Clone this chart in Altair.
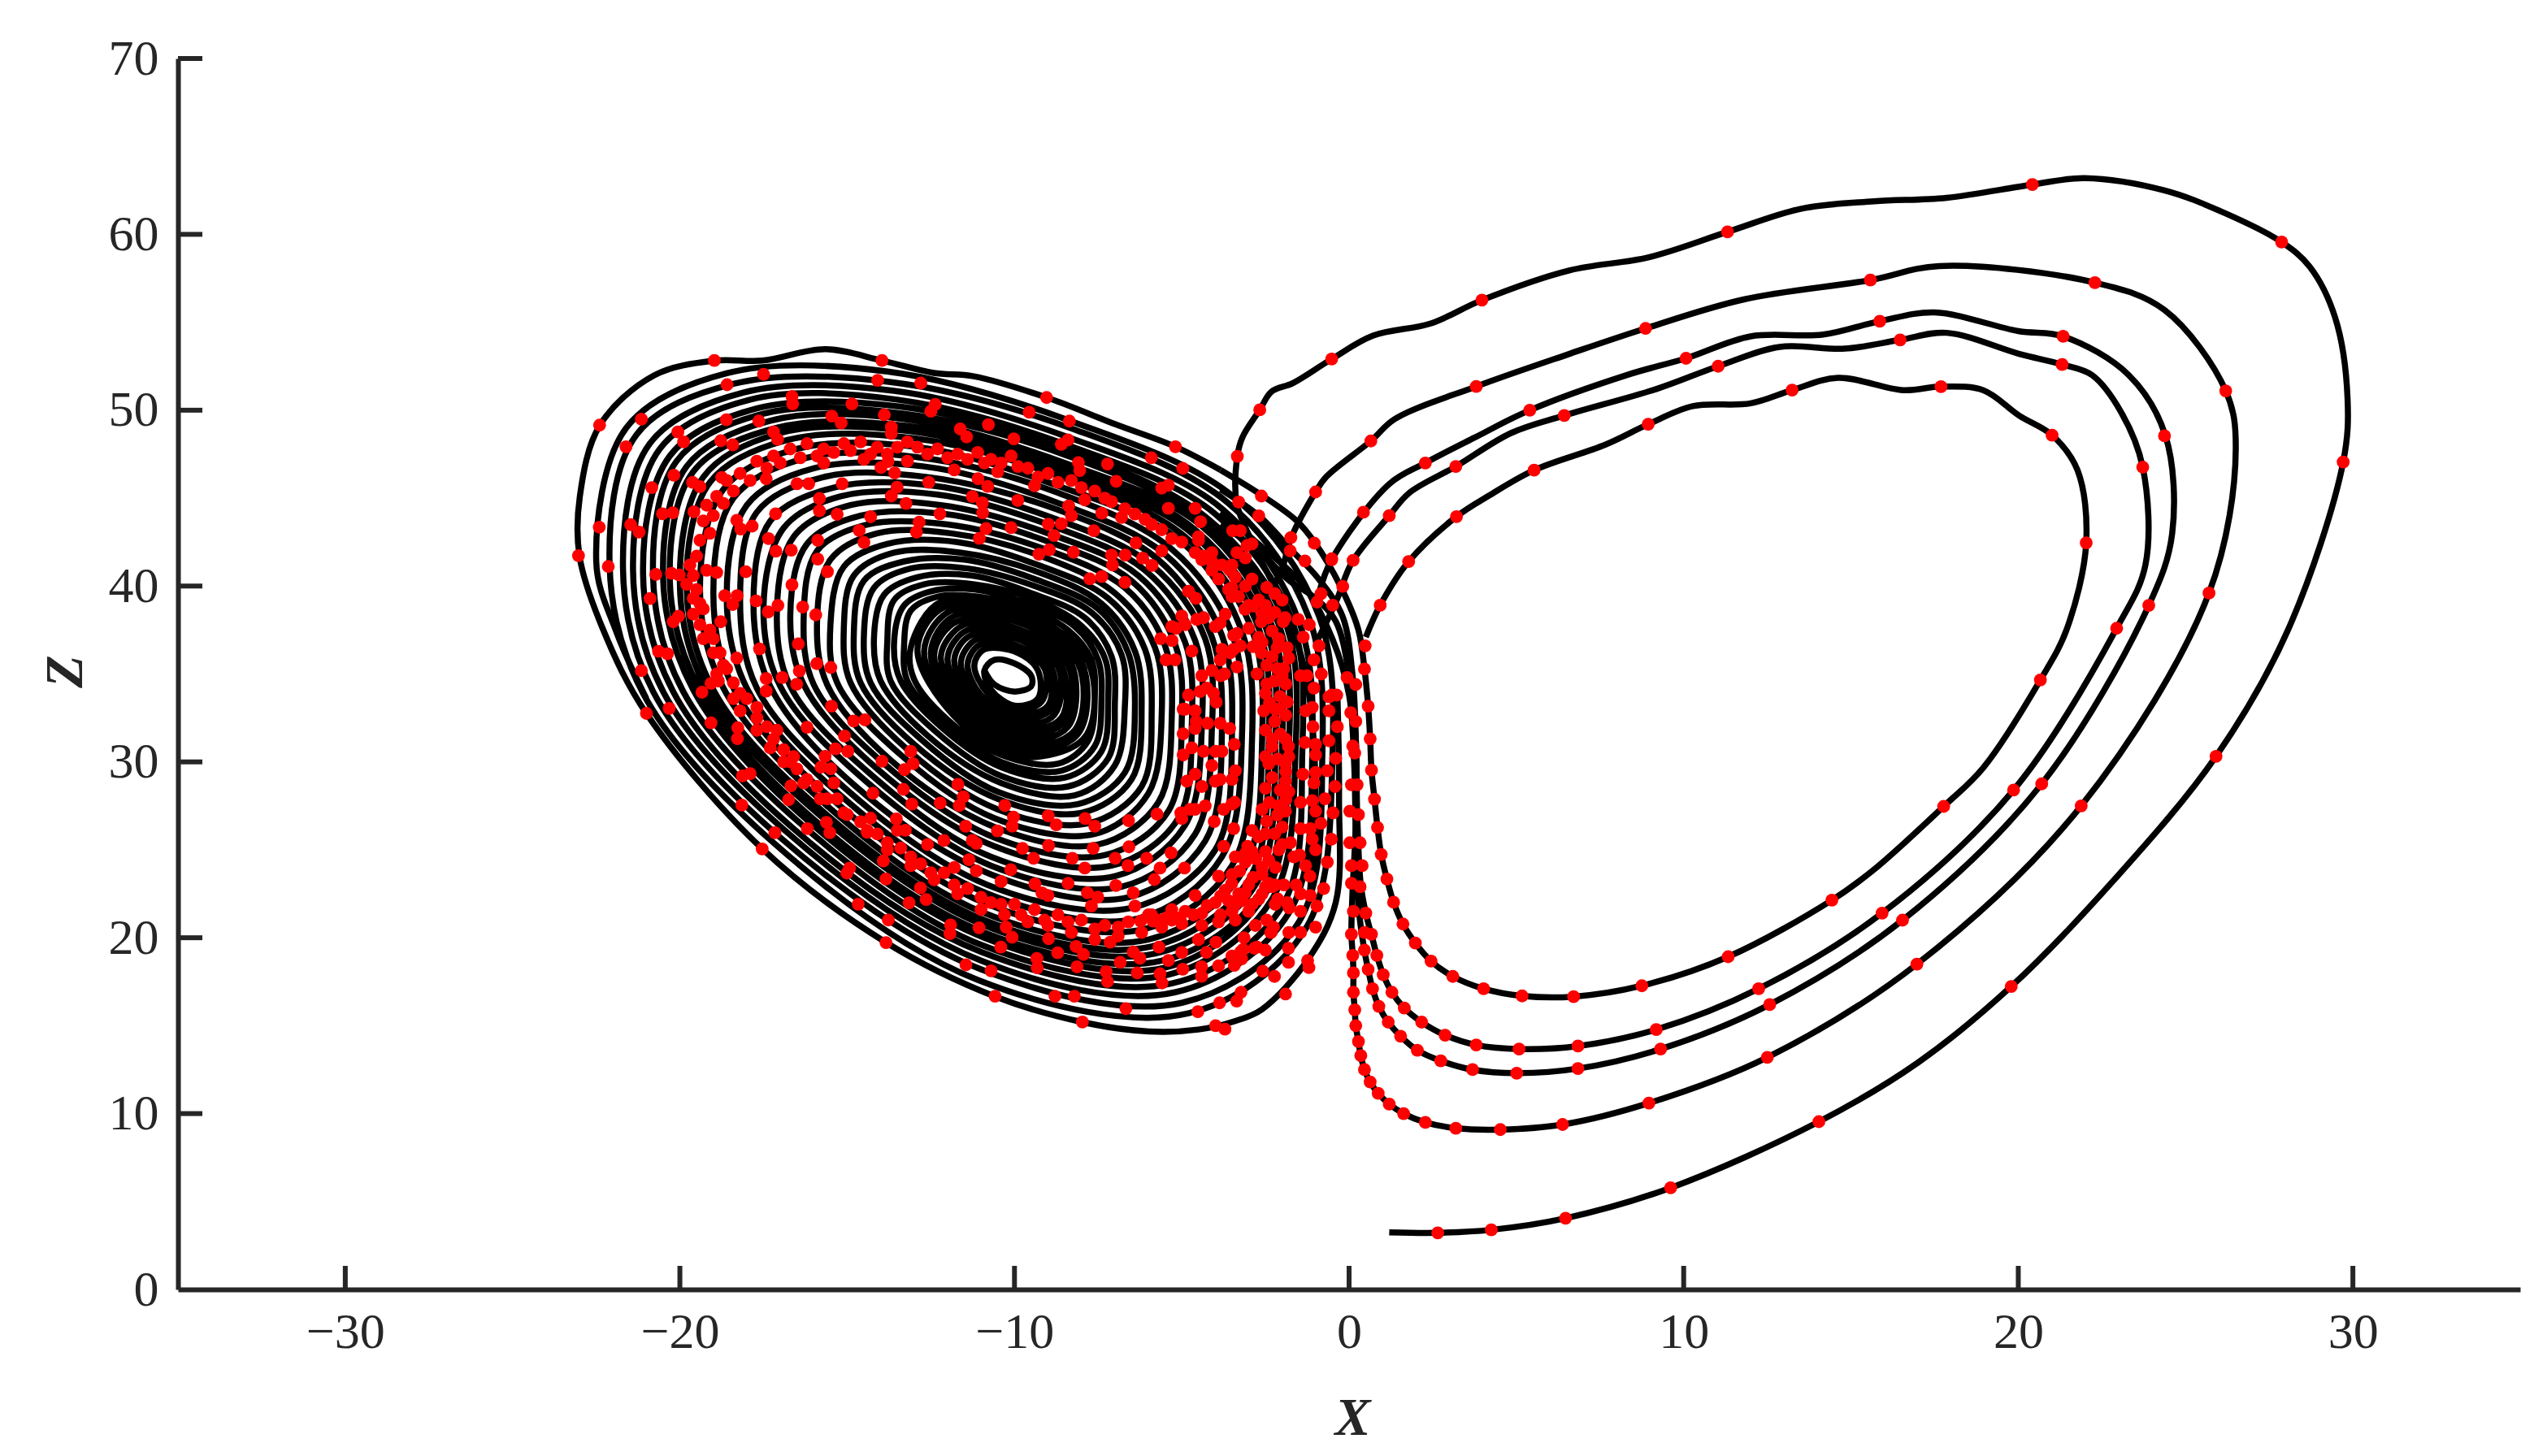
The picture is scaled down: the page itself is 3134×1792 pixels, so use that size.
import altair as alt
import pandas as pd

# (x, z)
loop_first = [(1.2,3.25),(2.65,3.22),(4.25,3.39),(6.47,4.05),(9.61,5.78),(14.04,9.54),(17,12.9),(19.79,17.23),(22.85,23.26),(25.91,30.32),(28.06,37.5),(29.71,47.05),(29.84,50.7),(29.47,55.27),(28.71,58.16),(27.87,59.56),(26.11,61.26),(24.37,62.5),(21.98,63.2),(20.42,62.83),(17.86,62.08),(15.69,61.88),(13.52,61.46),(11.31,60.14),(8.96,58.7),(6.58,57.95),(3.97,56.26),(2.45,54.94),(0.72,54.24),(-0.52,52.91),(-1.67,51.55),(-2.32,51.05),(-2.67,50.02),(-3.19,48.45),(-3.34,47.38),(-3.36,44.73),(-2.9,42.5),(-2.0,39),(-1.3,35),(-1.0,28),(-1.2,22)]
loop_a = [(-3.84,45.5),(-2.7,44),(-1.7,42),(-0.95,40.5),(-0.2,38.3),(0.1,35),(0.2,31.3),(0.2,26.5),(0.1,22.5),(0.07,20.2),(0.11,19),(0.13,18),(0.13,16.9),(0.17,15.9),(0.2,15),(0.28,14.1),(0.35,13.3),(0.46,12.5),(0.63,11.8),(0.87,11.15),(1.2,10.54),(1.63,10),(2.28,9.5),(3.19,9.17),(4.52,9.09),(6.38,9.38),(8.96,10.6),(12.5,13.2),(16.97,18.5),(21.88,27.5),(25.7,39.6),(26.5,47.8),(26.2,51.1),(24.37,55.7),(22.29,57.25),(17.64,58.2),(15.58,57.4),(11.8,56.3),(8.86,54.65),(6.58,53.2),(3.8,51.35),(1.37,49.5),(0.65,48.25),(-0.69,46.2),(-1,45.35),(-1.74,42.7),(-2,41),(-2.4,39.5)]
loop_b = [(-3.84,44.2),(-2.9,42.7),(-1.35,40),(-0.5,37),(0,33.8),(0.15,30),(0.2,26),(0.28,21.8),(0.46,19.25),(0.57,18.2),(0.7,17.1),(0.89,16.1),(1.17,15.2),(1.54,14.4),(2.04,13.6),(2.74,13),(3.69,12.5),(5.01,12.3),(6.84,12.56),(9.31,13.67),(12.57,16.2),(16.54,21),(20.7,28.75),(23.9,38.9),(24.6,43),(24.4,48.54),(23.3,52),(21.34,54.2),(20,54.5),(17.5,55.56),(15.86,55.06),(14.17,54.3),(12,54.2),(10.07,52.95),(8.3,52),(5.4,50),(3.76,48.45),(2.28,47),(1.2,45.8),(-0.52,41.5),(-0.9,39.6)]
loop_c = [(-3.84,43.5),(-2.7,42),(-1.78,40.3),(-1,39.3),(-0.4,38),(0,35),(0.2,31.3),(0.24,27.2),(0.35,23),(0.5,21.4),(0.67,20.16),(0.83,19),(1.02,17.9),(1.28,16.9),(1.65,16),(2.17,15.2),(2.87,14.46),(3.8,13.9),(5.08,13.67),(6.84,13.84),(9.18,14.78),(12.24,17.1),(15.93,21.4),(19.86,28.4),(22.94,37.6),(23.8,41.2),(23.72,46.76),(23.07,49.9),(22.2,52),(21.31,52.6),(20.03,53.2),(17.86,54.4),(16.47,54),(14.82,53.5),(12.87,53.6),(11.03,52.5),(9.18,51.2),(6.43,49.7),(4.84,48.7),(3.19,46.8),(1.8,45.3),(1.2,44),(0.1,41.4),(-0.37,39.2),(-1,36.7)]
loop_d = [(-3.84,46.6),(-2.6,45.15),(-1.56,43.7),(-1.02,42.46),(-0.26,40),(0.28,37.5),(0.46,35.28),(0.57,33.17),(0.63,31.31),(0.67,29.53),(0.76,27.88),(0.85,26.27),(0.96,24.74),(1.13,23.34),(1.33,22.02),(1.61,20.78),(1.98,19.7),(2.45,18.67),(3.1,17.8),(4.02,17.1),(5.17,16.69),(6.71,16.65),(8.75,17.27),(11.33,18.92),(14.43,22.14),(15.69,23.88),(17.77,27.47),(18.95,29.66),(20.66,34.66),(21.44,37.5),(22.03,42.46),(21.77,46.59),(21.01,48.58),(20.03,49.69),(18.95,51.14),(17.69,51.34),(16.56,51.14),(14.61,51.84),(13.24,51.14),(12,50.39),(10.27,50.23),(8.94,49.2),(7.66,48.04),(5.53,46.59),(4.19,45.15),(3.21,43.95),(1.78,41.39),(0.93,38.91),(0.5,37.1)]

ring_outer = [(-0.35,33.9),(-0.3,28),(-0.4,22),(-1.23,18.76),(-2.6,15.93),(-3.41,15.26),(-4.51,14.78),(-5.99,14.67),(-7.97,15.2),(-10.58,16.66),(-13.83,19.72),(-17.53,25.04),(-21,32.75),(-22.3,37.55),(-23,41.7),(-22.99,45.1),(-22.39,49.15),(-20.77,51.98),(-18.97,52.82),(-17.53,52.82),(-15.66,53.47),(-13.95,52.82),(-12.42,52.12),(-11.22,51.93),(-9.04,50.72),(-6.96,49.18),(-5.19,47.92),(-3.84,46.6)]
rings_outer = [
    (-21,33.6),(-21.9,37.4),
    (-22.5,41.4),(-21.6,49),(-18.6,52.1),(-13.8,52.2),(-8.2,49.3),(-3.4,45),(-0.9,38.3),(-0.5,30.1),(-1.3,20.5),(-4.8,15.7),(-11.1,17.6),(-17.2,25.4),(-21.1,33.9),
    (-22.1,41.2),(-21.3,48.6),(-18.4,51.5),(-13.7,51.6),(-8.2,48.9),(-3.6,44.7),(-1.2,38.2),(-0.8,30.3),(-1.5,20.9),(-5,16.3),(-11,18.2),(-17,25.7),(-20.8,34),
    (-21.7,41),(-20.9,48.1),(-18.1,51),(-13.6,51.1),(-8.3,48.4),(-3.8,44.4),(-1.5,38),(-1.1,30.4),(-1.8,21.4),(-5.2,16.9),(-11,18.7),(-16.8,26),(-20.5,34),
    (-21.4,40.9),(-20.6,47.8),(-17.9,50.6),(-13.5,50.6),(-8.4,48),(-4,44.1),(-1.7,38),(-1.4,30.5),(-2,21.8),(-5.3,17.4),(-11,19.2),(-16.6,26.2),(-20.2,34),
    (-21.1,40.7),(-20.3,47.4),(-17.7,50.1),(-13.4,50.2),(-8.4,47.7),(-4.2,43.8),(-1.9,37.9),(-1.6,30.7),(-2.3,22.2),(-5.4,17.9),(-11,19.6),(-16.4,26.5),(-19.9,34),
    (-20.8,40.5),(-20.1,47.1),(-17.5,49.8),(-13.3,49.8),(-8.4,47.4),(-4.3,43.6),(-2.1,37.8),(-1.8,30.8),(-2.5,22.5),(-5.5,18.3),(-10.9,20),(-16.2,26.7),(-19.6,34.1),
    (-20.5,40.4),(-19.8,46.8),(-17.3,49.4),(-13.3,49.5),(-8.5,47),(-4.4,43.4),(-2.3,37.7),(-2,30.9),(-2.6,22.7),(-5.6,18.7),(-10.9,20.3),(-16.1,26.9),(-19.4,34.1),
    (-20.3,40.3),(-19.6,46.5),(-17.1,49),(-13.2,49.1),(-8.5,46.8),(-4.6,43.2),(-2.5,37.7),(-2.2,31),(-2.8,23),(-5.8,19.1),(-10.9,20.7),(-15.9,27.1),(-19.2,34.1),
    (-20,40.1),(-19.3,46.2),(-17,48.7),(-13.1,48.8),(-8.6,46.5),(-4.7,43),(-2.7,37.6),(-2.4,31.1),(-3,23.3),(-5.9,19.5),(-10.9,21),(-15.8,27.3),(-19,34.1),
    (-19.8,40),(-19.1,45.9),(-16.8,48.3),(-13,48.4),(-8.6,46.2),(-4.9,42.8),(-2.9,37.5),(-2.6,31.2),(-3.2,23.7),(-6,19.9),(-10.9,21.4),(-15.6,27.5),(-18.7,34.2),
]
rings_mid = [
    (-19.4,39.8),(-18.7,45.5),(-16.5,47.8),(-12.9,47.9),(-8.7,45.7),(-5,42.5),(-3.2,37.4),(-2.9,31.3),(-3.5,24.1),(-6.1,20.5),(-10.8,21.9),(-15.4,27.8),(-18.4,34.2),
    (-19,39.6),(-18.4,45),(-16.2,47.3),(-12.8,47.3),(-8.7,45.3),(-5.3,42.1),(-3.5,37.3),(-3.2,31.5),(-3.8,24.6),(-6.3,21.1),(-10.8,22.5),(-15.2,28.1),(-18,34.2),
    (-18.6,39.4),(-18,44.6),(-16,46.7),(-12.7,46.8),(-8.8,44.8),(-5.5,41.8),(-3.8,37.2),(-3.5,31.6),(-4,25),(-6.5,21.7),(-10.8,23),(-15,28.4),(-17.7,34.2),
    (-18.2,39.2),(-17.7,44.2),(-15.7,46.2),(-12.6,46.2),(-8.8,44.4),(-5.7,41.5),(-4.1,37.1),(-3.8,31.8),(-4.3,25.5),(-6.6,22.3),(-10.7,23.6),(-14.8,28.7),(-17.3,34.3),
    (-17.8,39),(-17.3,43.7),(-15.4,45.6),(-12.4,45.7),(-8.9,43.9),(-5.9,41.2),(-4.3,37),(-4.1,31.9),(-4.6,25.9),(-6.8,22.9),(-10.7,24.1),(-14.5,29),(-17,34.3),
    (-17.5,38.8),(-16.9,43.3),(-15.2,45.1),(-12.3,45.2),(-9,43.5),(-6.1,40.9),(-4.6,36.9),(-4.4,32),(-4.9,26.4),(-7,23.5),(-10.7,24.6),(-14.3,29.3),(-16.7,34.3),
    (-17.1,38.6),(-16.6,42.8),(-14.9,44.6),(-12.2,44.6),(-9,43),(-6.3,40.6),(-4.9,36.8),(-4.7,32.2),(-5.1,26.8),(-7.1,24.1),(-10.6,25.2),(-14.1,29.6),(-16.3,34.4),
    (-16.7,38.4),(-16.2,42.4),(-14.6,44),(-12.1,44.1),(-9.1,42.6),(-6.5,40.3),(-5.2,36.7),(-5,32.4),(-5.4,27.2),(-7.3,24.7),(-10.6,25.7),(-13.9,29.9),(-16,34.4),
    (-16.3,38.2),(-15.9,42),(-14.4,43.5),(-12,43.5),(-9.1,42.1),(-6.7,39.9),(-5.5,36.6),(-5.3,32.5),(-5.7,27.7),(-7.5,25.3),(-10.6,26.3),(-13.7,30.1),(-15.6,34.4),
    (-15.9,38),(-15.5,41.5),(-14.1,43),(-11.9,43),(-9.2,41.7),(-7,39.6),(-5.8,36.5),(-5.6,32.7),(-6,28.2),(-7.6,25.9),(-10.6,26.8),(-13.4,30.4),(-15.3,34.5),
    (-15.5,37.8),(-15.1,41.1),(-13.8,42.4),(-11.7,42.5),(-9.3,41.2),(-7.2,39.3),(-6.1,36.4),(-5.9,32.8),(-6.2,28.6),(-7.8,26.5),(-10.5,27.3),(-13.2,30.7),(-14.9,34.5),
    (-15.1,37.6),(-14.8,40.6),(-13.6,41.9),(-11.6,41.9),(-9.3,40.8),(-7.4,39),(-6.4,36.3),(-6.2,33),(-6.5,29),(-8,27.1),(-10.5,27.9),(-13,31),(-14.6,34.5),
    (-14.8,37.4),(-14.5,40.3),(-13.3,41.4),(-11.5,41.5),(-9.4,40.4),(-7.5,38.7),(-6.6,36.2),(-6.4,33.1),(-6.7,29.4),(-8.1,27.6),(-10.5,28.3),(-12.8,31.3),(-14.3,34.5),
    (-14.5,37.2),(-14.2,39.9),(-13.1,41),(-11.4,41),(-9.4,40),(-7.7,38.5),(-6.8,36.1),(-6.7,33.2),(-7,29.8),(-8.2,28.1),(-10.4,28.8),(-12.6,31.5),(-14,34.6),
    (-14.2,37),(-13.9,39.5),(-12.9,40.5),(-11.3,40.6),(-9.5,39.6),(-7.9,38.2),(-7.1,36),(-7,33.3),(-7.2,30.2),(-8.4,28.6),(-10.4,29.2),(-12.4,31.8),(-13.7,34.6),
    (-13.8,36.9),(-13.6,39.2),(-12.7,40.1),(-11.2,40.1),(-9.5,39.3),(-8.1,37.9),(-7.3,35.9),(-7.2,33.5),(-7.4,30.6),(-8.5,29.1),(-10.4,29.7),(-12.2,32),(-13.4,34.6),
    (-13.6,36.7),(-13.3,38.9),(-12.5,39.7),(-11.2,39.8),(-9.6,39),(-8.2,37.7),(-7.5,35.8),(-7.4,33.5),(-7.6,30.9),(-8.6,29.5),(-10.4,30),(-12.1,32.2),(-13.2,34.6),
    (-13.3,36.6),(-13.1,38.6),(-12.3,39.4),(-11.1,39.4),(-9.6,38.7),(-8.4,37.5),(-7.7,35.8),(-7.6,33.7),(-7.8,31.2),(-8.7,29.9),(-10.4,30.4),(-12,32.4),(-13,34.7),
]
rings_inner = [
    (-13.1,36.5),(-12.2,39.1),(-9.6,38.4),(-7.8,35.7),(-7.9,31.4),(-9.9,30.3),(-11.8,32.6),
    (-12.9,36.4),(-12.1,38.8),(-9.7,38.2),(-8,35.7),(-8.1,31.6),(-9.9,30.6),(-11.7,32.7),
    (-12.7,36.3),(-11.9,38.6),(-9.7,38),(-8.1,35.6),(-8.2,31.8),(-9.9,30.9),(-11.6,32.9),
    (-12.5,36.2),(-11.8,38.3),(-9.7,37.8),(-8.3,35.6),(-8.4,32),(-9.9,31.2),(-11.5,33),
    (-12.4,36.1),(-11.7,38),(-9.8,37.5),(-8.4,35.5),(-8.5,32.3),(-9.9,31.5),(-11.4,33.2),
    (-12.2,36),(-11.5,37.8),(-9.8,37.3),(-8.6,35.5),(-8.6,32.5),(-9.9,31.8),(-11.3,33.3),
    (-12,35.9),(-11.4,37.5),(-9.8,37.1),(-8.7,35.4),(-8.8,32.7),(-9.9,32.1),(-11.2,33.5),
    (-11.8,35.8),(-11.3,37.2),(-9.8,36.9),(-8.9,35.4),(-8.9,33),(-10,32.4),(-11.1,33.6),
    (-11.6,35.7),(-11.1,37),(-9.9,36.6),(-9,35.3),(-9,33.2),(-10,32.7),(-11,33.8),
    (-11.4,35.6),(-11,36.7),(-9.9,36.4),(-9.1,35.3),(-9.2,33.4),(-10,33),(-10.8,33.9),
    (-11.2,35.5),(-10.9,36.4),(-9.9,36.2),(-9.3,35.2),(-9.3,33.6),(-10,33.2),(-10.7,34.1),
    (-10.9,35.2),(-10.6,35.8),(-10,35.6),(-9.5,34.9),(-9.5,34.3),(-10,34),(-10.6,34.4),(-10.9,35.2),
]

dots_right = [
    (2.65,3.22),(4.25,3.39),(6.47,4.05),(9.61,5.78),(14.04,9.54),(19.79,17.23),(25.91,30.32),(29.71,47.05),(27.87,59.56),(20.42,62.83),(11.31,60.14),(3.97,56.26),(-0.52,52.91),(-2.67,50.02),(-3.34,47.38),
    (1.2,10.54),(1.63,10),(2.28,9.5),(3.19,9.17),(4.52,9.09),(6.38,9.38),(8.96,10.6),(12.5,13.2),(16.97,18.5),(21.88,27.5),(25.7,39.6),(26.2,51.1),(22.29,57.25),(15.58,57.4),(8.86,54.65),(3.8,51.35),(0.65,48.25),(-1,45.35),
    (3.69,12.5),(5.01,12.3),(6.84,12.56),(9.31,13.67),(12.57,16.2),(16.54,21),(20.7,28.75),(23.9,38.9),(24.37,48.54),(21.34,54.2),(15.86,55.06),(10.07,52.95),(5.4,50),(2.28,47),(0.43,44.2),(-0.52,41.5),
    (3.8,13.9),(5.08,13.67),(6.84,13.84),(9.18,14.78),(12.24,17.1),(15.93,21.4),(19.86,28.4),(22.94,37.6),(23.72,46.76),(21.31,52.6),(16.47,54),(11.03,52.5),(6.43,49.7),(3.19,46.8),(1.2,44),
    (0.93,38.91),(1.78,41.39),(3.21,43.95),(5.53,46.59),(8.94,49.2),(13.24,51.14),(17.69,51.34),(21.01,48.58),(22.03,42.46),(20.66,34.66),(17.77,27.47),(14.43,22.14),(11.33,18.92),(8.75,17.27),(6.71,16.65),(5.17,16.69),(4.02,17.1),(3.1,17.8),(2.45,18.67),(1.98,19.7),(1.61,20.78),(1.33,22.02),(1.13,23.34),(0.96,24.74),(0.85,26.27),(0.76,27.88),(0.67,29.53),(0.63,31.31),(0.57,33.17),(0.46,35.28),(0.48,36.6),
]
dots_column = [
    (-0.06,34.8),(0.2,34.4),(0.05,32.8),(0.2,32.3),(0.11,30.9),(0.17,30.5),(0.07,28.7),(0.24,28.7),(0.02,27.2),(0.28,27),(0.02,25.4),(0.33,25.4),(0.07,24.1),(0.39,24.1),(0.07,23.1),(0.33,22.9),(0.13,21.5),(0.5,21.4),(0.07,20.2),(0.46,20.3),(0.67,20.2),(0.11,19),(0.46,19.3),(0.83,19),(0.13,18),(0.57,18.2),(1.02,17.9),(0.13,16.9),(0.7,17.1),(1.28,16.9),(0.17,15.9),(0.89,16.1),(1.65,16),(0.2,15),(1.17,15.2),(2.17,15.2),(0.28,14.1),(1.54,14.4),(2.87,14.46),(0.35,13.3),(2.04,13.6),(0.46,12.5),(2.74,13),(0.63,11.8),(0.87,11.15),
]
dots_band = [
    (-19.5,41.7),(-19.4,42.6),(-19.3,43.7),(-19.2,44.6),(-18.9,45.1),(-18.6,46),(-18.2,46.4),(-17.7,47.1),(-17.2,47.4),(-16.7,47.8),(-16.2,48.1),(-15.7,47.8),(-15.1,48.1),(-14.6,48.2),(-14.1,47.9),(-13.5,47.9),(-12.9,47.9),(-12.3,47.8),(-11.7,47.5),(-11.1,47.6),(-10.7,47.2),(-10.1,47.4),(-9.6,46.7),(-9,46.4),(-8.3,46),(-7.6,45.4),(-7.1,44.8),(-6.4,44.1),(-5.9,43.5),(-5.3,42.7),(-4.6,41.9),(-4.1,40.9),(-3.6,39.8),(-3,38.9),
    (-19.6,40.6),(-19.5,39.8),(-19.3,38.7),(-19,37),(-18.8,36.2),(-18.4,34.5),(-18,33.6),(-17.4,32),(-16.9,30.7),(-16.5,29.6),(-15.9,28.6),(-15.3,27.9),(-14.6,26.6),(-14.1,25.9),(-13.4,25.1),(-12.8,24.2),(-12.1,23.7),(-11.4,22.8),(-10.7,22),(-10,21.9),(-9.4,21.6),(-8.7,21.3),(-8,21),(-7.3,20.7),(-6.6,20.9),(-5.9,21.3),(-5.3,21.6),(-4.6,22.4),(-3.9,23.5),(-3.4,24.6),
    (-19.2,40.9),(-19.6,38.4),(-18.6,35.3),(-18.3,35.9),(-17.7,33.1),(-17.1,31.8),(-16.6,30.3),(-15.4,28.8),(-14.3,26.8),(-12.6,25.3),(-11.8,24),(-10.4,23.2),(-9,22.4),(-7.7,21.8),(-6.4,21.8),(-15.7,47),(-14.5,47.2),(-13.2,47.1),(-11.8,46.6),(-10.5,46.5),(-9.4,45.7),(-7.9,44.9),(-6.8,43.9),(-5.6,42),
    (-2.22,39.57),(-2.46,39.92),(-2.7,39.21),(-2.87,38.86),(-3.11,38.68),(-2.62,37.97),(-1.97,37.97),(-2.22,38.5),(-2.3,37.44),(-2.7,37.08),(-2.87,36.55),(-2.62,36.2),(-2.46,35.49),(-2.22,34.6),(-1.89,34.43),(-2.46,34.43),(-2.06,33.72),(-2.38,33.36),(-1.89,32.65),(-2.22,32.3),(-2.06,31.59),(-2.3,30.88),(-1.81,30.88),(-2.14,30.17),(-1.89,29.46),(-2.3,29.11),(-2.06,28.4),(-2.38,27.69),(-1.89,27.86),(-2.14,26.98),(-2.46,26.62),(-2.7,25.74),(-2.22,25.91),(-3.03,25.2),(-2.79,24.49),(-3.27,23.79),(-2.87,23.43),(-3.51,23.08),(-3.11,22.55),(-3.84,22.37),(-3.43,21.84),(-4.24,21.84),(-3.84,21.3),(-4.65,21.3),(-5.05,21.13),(-5.46,21.13),(-5.86,20.95),(-6.23,20.95),
    (-2,39.2),(-2.5,38.9),(-2.4,38.2),(-2.1,37),(-2.15,36.5),(-2.3,36),(-1.95,35.3),(-2.75,35),(-2,34.9),(-2.5,33.9),(-1.85,33.4),(-2.55,32.9),(-2.1,33),(-2.5,31.8),(-1.9,31.3),(-2.5,30.3),(-1.8,30.3),(-2.4,29.9),(-1.9,28.9),(-2.5,28.5),(-1.8,28.3),(-2.6,27.3),(-1.9,27.2),(-2.5,25.9),(-2.9,26.1),(-2,26.3),(-2.9,24.9),(-2.5,24.9),(-3.1,24.3),(-2.6,24),(-3.5,23.6),(-3,23),(-3.7,22.7),(-3.2,22.1),(-4,22),(-3.5,21.5),(-4.4,21.4),(-4.9,21.5),(-5.3,21),(-5.7,21),(-6,21.3),(-3.1,24.8),
    (-6.9,20.6),(-7.6,20.5),(-8.4,20.9),(-9.1,21),(-9.8,21.3),(-10.4,21.9),(-11,22.3),(-11.8,23),(-12.5,23.7),(-13.1,24.6),(-13.8,25.4),(-14.4,26.1),(-15,27),(-15.6,27.9),(-16.2,29),(-16.7,30),(-17.2,31.3),(-17.7,32.5),(-18.2,33.9),(-18.7,35.5),(-19.1,37.5),(-19.4,39),
    (-19.1,43),(-19,44),(-18.7,44.7),(-18.4,45.4),(-17.9,46),(-17.4,46.7),(-17,47),(-16.4,47.3),(-15.9,47.4),(-15.4,47.6),(-14.9,47.7),(-14.3,47.5),(-13.8,47.5),(-13.2,48.2),(-12.6,47.5),(-12,47.3),(-11.4,47.2),(-10.9,47),(-10.4,47),(-9.9,46.8),(-9.3,46.2),(-8.7,45.9),(-8,45.6),(-7.3,45),(-6.7,44.4),(-6.1,43.8),(-5.6,43.2),(-5,42.5),(-4.4,41.5),(-3.9,40.4),(-3.3,39.4),
    (-19.7,41.2),(-19.8,40.1),(-19.6,39.3),(-19.4,37.8),(-19.3,37),(-19,36.2),(-18.9,35),(-18.4,33.6),(-18.2,32.9),(-17.7,31.8),(-17.3,30.8),(-16.9,30),(-16.3,28.8),(-15.8,27.9),(-15.1,27.1),(-14.4,26),(-13.8,25),(-13.1,24.1),(-12.4,23.3),(-11.7,22.5),(-11,21.6),(-10.3,21.3),(-9.6,20.9),(-9,20.7),(-8.3,20.3),(-7.6,19.9),(-6.9,20.1),(-6.2,20.3),(-5.6,20.6),(-5,20.8),(-4.4,20.7),(-3.9,20.9),(-3.4,21),(-3,21.5),(-2.7,22.2),(-2.4,23.1),(-2.2,24),(-2.1,25),(-2,25.3),
    (-2.6,22.5),(-2.9,21.9),(-3.3,22.5),(-3.6,22.1),(-2.6,23.6),(-2.2,23),(-2.4,24.4),(-2.1,27.5),(-1.9,29.9),(-2.3,31.3),(-2.2,33),(-2.15,35.3),(-1.85,36.5),(-1.8,35.9),(-2.6,36.8),(-2.6,38.4),(-3,37.6),(-3.1,40),(-2.9,40.4),(-3.6,41),(-3.4,40.5),
]
dots_left = [
    (-23.03,41.73),(-22.4,49.15),(-18.97,52.83),(-13.96,52.83),(-9.04,50.72),(-5.19,47.92),(-2.62,45.12),(-17.5,52.04),(-14.09,51.7),(-12.8,51.54),(-18.59,51.45),(-21.15,49.49),(-21.61,47.92),(-22.41,43.35),(-22.14,41.11),(-21.15,35.19),(-21,32.76),(-20.32,33.04),(-18.15,27.54),(-17.16,25.97),(-17.54,25.05),(-14.67,21.91),(-13.84,19.72),(-13.77,21.01),(-11.45,18.46),(-10.7,18.12),(-10.58,16.67),(-8.79,16.67),(-8.21,16.67),(-7.97,15.21),(-6.67,15.97),
    (-16.65,50.78),(-16.63,50.36),(-14.86,50.36),(-12.37,50.33),(-12.5,49.94),(-9.56,49.88),(-8.36,49.38),(-10.78,49.18),(-13.89,49.74),(-15.46,49.66),(-15.18,49.27),(-17.64,49.38),(-18.61,49.46),(-20.06,48.76),(-19.89,48.2),(-18.78,48.26),(-18.42,48.03),(-17.2,48.76),(-17.08,48.34),(-13.68,49.04),(-13.68,48.68),(-11.62,48.93),(-11.43,48.48),(-10.02,48.37),(-8.6,48.06),(-8.4,48.31),(-5.91,47.3),(-4.97,46.69),(-7.22,46.94),(-8.09,47.02),(-8.05,46.57),
    (-20.18,46.3),(-20.84,45.6),(-19.62,45.9),(-19.4,45.65),(-18.75,46.18),(-17.42,46.1),(-16.5,45.82),(-16.15,45.82),(-15.15,45.82),(-12.56,45.9),(-13.58,46.43),(-13.99,46.74),(-13.78,47.08),(-11.09,46.1),(-10.8,45.67),(-6.96,45.96),(-5.6,45.57),(-5.4,45.73),(-4.6,44.42),(-4.44,43.66),(-3.48,43.15),(-3.25,43.15),(-3.3,44.78),(-2.7,43.99),
    (-20.52,44.11),(-20.21,44.17),(-21.47,43.49),(-21.22,43.07),(-19.58,44.22),(-18.3,43.74),(-17.84,43.41),(-18.18,43.24),(-17.14,44.11),(-15.83,44.98),(-15.83,44.28),(-15.3,44.08),(-14.3,43.94),(-13.51,45.62),(-13.68,45.12),(-13.24,44.7),(-12.23,44.11),(-11.26,45.09),(-10.96,44.73),(-10.95,44.17),(-9.9,44.87),(-8.38,44.56),(-8.3,44),(-7.39,44.14),(-5.4,44.42),
    (-17.35,42.7),(-17.13,41.98),(-16.67,42.04),(-15.88,42.6),(-14.64,43.16),(-14.5,42.48),(-12.85,43.63),(-12.93,43.07),(-10.85,43.27),(-11.05,42.71),(-10.1,43.32),(-8.99,43.52),(-8.6,43.54),(-8.82,42.87),(-7.63,43.15),(-6.37,42.46),(-6.69,41.76),(-8.24,41.92),(-8.96,42.06),(-9.27,41.81),(-7.1,41.76),(-7.07,41.2),(-5.89,41.17),(-6.17,41.59),(-7.75,40.41),(-7.39,40.54),(-6.7,40.21),
    (-15.88,41.53),(-15.59,40.82),(-18.03,40.82),(-16.65,40.07),(-20.72,40.66),(-20.25,40.72),(-20.02,40.63),(-18.9,40.77),(-20.89,39.29),(-18.66,39.45),(-18.29,39.45),(-18.42,38.95),(-17.72,39.15),(-17.36,38.53),(-17.07,38.9),(-16.33,38.81),(-15.94,38.36),(-20.2,37.97),(-20.04,38.28),(-18.78,37.97),(-17.62,36.43),(-16.46,36.71),(-20.64,36.29),(-20.37,36.15),(-15.91,35.59),(-15.49,35.37),(-16.43,35.17),(-16.94,34.8),(-16.51,34.42),(-17.42,34.74),(-17.42,34.02),(-18.85,34.6),(-19.07,34.46),(-19.34,33.96),(-15.47,33.17),(-14.81,32.33),(-14.47,32.39),(-16.2,31.97),(-19.07,32.22),(-18.27,31.94),(-18.28,31.32),(-15.08,31.47),(-15.35,30.74),(-14.98,30.6),(-13.1,30.6),(-13.03,29.9),(-13.29,29.56),(-13.96,30.04),(-15.66,30.32),(-15.49,29.61),(-15.78,29.7),(-18.13,29.2),(-17.9,29.33),(-16.68,28.64),(-16.75,27.85),(-14.23,28.22),(-13.32,28.44),(-11.69,28.72),(-11.53,28.02),(-11.65,27.52),(-12.22,27.66),(-13.07,27.6),(-10.29,27.52),(-10.03,26.86),(-8.99,26.93),(-7.89,26.78),
    (-11.46,26.34),(-10.51,26.08),(-10.07,26.34),(-8.75,26.42),(-7.6,26.34),(-6.59,26.66),(-5.74,27.03),(-5,26.78),(-4.03,26.61),(-16.19,26.2),(-15.62,26.56),(-15.52,25.97),(-13.53,26.76),(-13.5,26.11),(-13.26,26.11),(-12.11,25.53),(-11.26,25.53),(-11.14,25.36),(-9.76,25.08),(-8.98,25.24),(-8.27,24.52),(-7.65,25.08),(-6.99,24.52),(-6.58,25.17),(-6.05,24.52),(-5.32,24.83),(-11.36,24.44),(-9.43,24.52),(-7.9,23.96),(-6.61,24.1),(-5.65,23.96),(-4.92,23.96),(-14.93,23.96),(-15.01,23.68),(-13.84,23.34),(-13.92,24.37),(-11.14,23.8),(-10.11,23.87),(-9.39,23.06),(-8.4,23.09),(-6.97,22.97),(-5.82,23.31),(-12.81,22.83),(-12.64,22.17),(-13.15,21.99),(-9.18,22.55),(-7.82,22.55),(-7.51,22.31),(-6.45,22.55),
    (-11.91,20.73),(-11.93,20.23),(-11.06,20.57),(-10.25,20.6),(-10.07,20.03),(-10.41,19.47),(-8.98,19.95),(-8.71,19.15),(-8.16,19.5),(-7.94,19.05),(-7.14,19.75),(-6.45,19.19),(-6.25,18.83),(-5.68,19.47),(-9.33,18.82),(-9.32,18.29),(-8.13,18.35),(-7.26,18.07),(-7.22,17.51),(-6.84,18.6),(-6.33,18),(-5.65,17.95),(-5.59,17.43),(-5.4,18.71),(-4.97,18.21),(-4.41,18.35),(-4.41,17.81),(-3.9,18.4),(-3.5,18.96),(-3.43,18.43),(-4.26,19.17),(-5,19.17),(-4.5,19.89),(-3.98,19.75),(-3.17,19.33),(-2.75,19.47),(-2.33,20.31),
]
dots_right_side = [
    (-1.74,42.76),(-1.76,42),(-1.32,41.43),(-1.04,42.44),(-0.52,41.55),(0.12,41.46),(-0.19,39.98),(-0.84,39.57),(-0.96,39.09),(-0.49,38.91),
    (-0.6,33.7),(-0.52,33.8),(-0.37,33.8),(-0.6,32.9),(-0.35,32),(-0.6,31.2),(-0.4,30.2),(-0.65,29.5),(-0.42,28.6),(-0.72,27.9),(-0.48,27.1),(-0.84,26.5),(-0.53,25.6),(-1,25),(-0.65,24.3),(-1.17,23.5),(-0.76,22.8),(-1.16,22.4),(-1.45,21.5),(-0.96,21.8),(-1,20.6),(-1.45,20.3),(-1.81,19.4),(-1.24,18.7),(-1.81,18.6),(-2.58,18.1),(-1.2,18.3),(-2.23,17.8),(-1.9,16.8),(-3.23,16.9),(-3.36,16.4),(-3.87,16.3),(-4.52,15.8),(-3.99,15),(-3.71,14.8),
    (-1.91,38.2),(-1.52,38.1),(-1.19,37.8),(-1.37,37.1),(-0.9,36.6),(-1.05,35.8),(-0.83,35),(-1.26,34.9),(-1.45,34.9),(-1.05,34.2),(-1.1,33.1),(-1.3,32.9),(-1.08,32),(-1.32,31.1),(-1,31),(-1,30.4),(-1.38,29.3),(-1,29.4),(-1.05,28.8),(-1.45,27.7),(-1.1,27.8),(-1,27.2),(-1.45,26.2),(-1.16,26.2),(-1.1,25.6),(-1.75,25.4),(-1.48,24.7),(-1.3,24.1),(-1.65,24.6),(-1.58,23),(-1.45,22.5),(-1.95,23),(-2.3,22.9),(-2.13,22.2),(-2.5,22.9),(-1.85,22),(-1.79,21.7),
    (-2.21,21.9),(-2.46,21),(-2.8,20.7),(-2.26,20.6),(-2.34,20.3),(-3.14,20),(-2.83,19.4),(-2.5,19.3),(-1.8,20.3),(-3.24,19.2),(-3.21,18.8),(-3.47,18.9),
    (-3.7,38.4),(-4,37.7),(-3.85,37.9),(-3.35,37.3),(-3.45,37.2),(-3.25,36.6),(-3.45,36.4),(-3.85,35.8),(-3.8,36.4),(-3.55,36.2),(-3.72,35),(-4.1,35.2),(-3.35,35.4),(-4.4,34.9),(-4.25,34.2),(-3.84,34.9),(-4.05,33.9),(-4.45,34),(-3.97,33.4),(-4.8,33.8),(-4.9,33),(-4.6,32.9),
    (-4.96,33),(-4.57,32.3),(-3.57,31.9),(-3.85,32.2),(-4.23,32.2),(-4.6,31.9),(-4.96,31.6),(-3.43,31),(-3.8,30.6),(-3.99,30.6),(-4.35,30.6),(-4.7,30.8),(-4.96,30.4),(-4.1,29.8),(-3.4,29.5),(-3.5,29),(-3.85,29),(-4,28.9),(-4.4,28.6),(-4.6,29.3),(-4.85,28.9),(-3.42,27.7),(-3.5,27.6),(-3.75,27.3),(-4.3,27.5),(-4.6,27.3),(-4.75,27.3),(-5.03,27.1),(-3.45,26.2),(-3.75,25.2),
    (-4.5,42.8),(-4.5,42.6),(-4.1,41.9),(-4.37,41.7),(-4.1,41.4),(-3.05,42.3),(-2.9,42.4),(-3.35,41.9),(-3.8,41.2),(-3.5,41.2),(-3.1,41.6),(-3.55,40.9),(-3.5,39.9),(-3.5,39.4),(-4.8,39.7),(-4.58,39.3),(-5,38.3),(-4.55,38.1),(-4.35,38.2),(-5.3,37.7),(-4.9,37.8),(-5.16,37.6),(-5.63,37),(-5.29,36.9),(-4.7,36.3),(-5.47,35.8),(-5.2,35.8),
]

tick_x = [-30, -20, -10, 0, 10, 20, 30]
tick_z = [10, 20, 30, 40, 50, 60, 70]

rows = []
segments = [("first", loop_first), ("a", loop_a), ("b", loop_b), ("c", loop_c), ("d", loop_d),
            ("outer", ring_outer), ("spiral", rings_outer + rings_mid + rings_inner)]
for name, pts in segments:
    for i, (px, pz) in enumerate(pts):
        rows.append({"seg": name, "i": i, "x": px, "z": pz})
lines = pd.DataFrame(rows)

all_dots = dots_right + dots_column + dots_band + dots_left + dots_right_side
dots = pd.DataFrame(all_dots, columns=["x", "z"])

x_scale = alt.Scale(domain=[-35, 35], nice=False)
z_scale = alt.Scale(domain=[0, 70], nice=False)
ink = "#262626"
serif = "Liberation Serif"

x_axis = alt.Axis(values=tick_x, ticks=False, grid=False, domainColor=ink, domainWidth=6,
                  labelFont=serif, labelFontSize=62, labelColor=ink, labelPadding=22,
                  labelFlush=False, format="d", title="X", titleFont=serif, titleFontSize=66,
                  titleFontStyle="italic", titleFontWeight="bold", titleColor=ink,
                  titleBaseline="alphabetic", titleX=1445, titleY=178)
z_axis = alt.Axis(values=[0] + tick_z, ticks=False, grid=False, domainColor=ink, domainWidth=6,
                  labelFont=serif, labelFontSize=62, labelColor=ink, labelPadding=24,
                  format="d", title="Z", titleFont=serif, titleFontSize=66,
                  titleFontStyle="italic", titleFontWeight="bold", titleColor=ink,
                  titleBaseline="alphabetic", titleX=-119, titleY=754)

path = alt.Chart(lines).mark_line(color="black", strokeWidth=7.5, interpolate="catmull-rom").encode(
    x=alt.X("x:Q", scale=x_scale, axis=x_axis),
    y=alt.Y("z:Q", scale=z_scale, axis=z_axis),
    detail="seg:N",
    order="i:Q",
)
points = alt.Chart(dots).mark_circle(color="#ff0000", size=250, opacity=1).encode(
    x=alt.X("x:Q", scale=x_scale),
    y=alt.Y("z:Q", scale=z_scale),
)
ticks_x = alt.Chart(pd.DataFrame({"v": tick_x})).mark_rule(color=ink, strokeWidth=6).encode(
    x=alt.X("v:Q", scale=x_scale), y=alt.value(1515), y2=alt.value(1486))
ticks_z = alt.Chart(pd.DataFrame({"v": tick_z})).mark_rule(color=ink, strokeWidth=6).encode(
    y=alt.Y("v:Q", scale=z_scale), x=alt.value(0), x2=alt.value(30))

chart = alt.layer(path, points, ticks_x, ticks_z).properties(
    width=2882, height=1515,
    padding={"left": 211, "top": 64, "right": 20, "bottom": 196},
    autosize=alt.AutoSizeParams(type="none"),
).configure_view(stroke=None)

chart.save("out.html", embed_options={"renderer": "svg", "actions": False})
